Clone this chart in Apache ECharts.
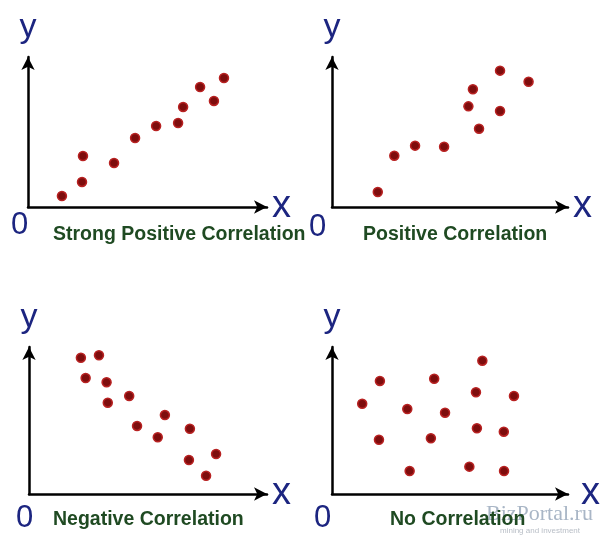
<!DOCTYPE html>
<html>
<head>
<meta charset="utf-8">
<script src="https://cdn.jsdelivr.net/npm/echarts@6/dist/echarts.min.js"></script>
<style>
  html, body { margin: 0; padding: 0; background: #fff; }
  #chart { width: 602px; height: 537px; }
</style>
</head>
<body>
<div id="chart"></div>
<script>
// points as [x, y] on a 0..100 scale for both axes
const strongPositive = [
  [14.2, 7.3], [22.6, 16.7], [23.0, 34.0], [36.0, 29.3], [44.8, 46.0], [53.6, 54.0],
  [62.8, 56.0], [64.9, 66.7], [72.0, 80.0], [77.8, 70.7], [82.0, 86.0]
];
const positive = [
  [19.4, 10.0], [26.4, 34.2], [35.2, 40.9], [47.5, 40.2], [62.3, 52.2],
  [57.8, 67.1], [71.2, 64.0], [59.7, 78.5], [71.2, 90.9], [83.3, 83.5]
];
const negative = [
  [21.8, 92.7], [29.4, 94.4], [23.8, 78.9], [32.6, 76.0], [33.1, 62.1], [42.1, 66.7],
  [57.1, 53.7], [45.4, 46.3], [54.1, 38.6], [67.6, 44.4], [67.2, 23.1], [78.6, 27.2], [74.4, 12.4]
];
const noCorrelation = [
  [63.7, 90.7], [20.3, 76.9], [43.3, 78.4], [61.0, 69.2], [77.1, 66.7], [12.8, 61.4],
  [31.9, 57.8], [47.9, 55.3], [61.4, 44.7], [72.8, 42.4], [19.9, 36.9], [41.9, 37.9],
  [32.9, 15.6], [58.2, 18.6], [72.9, 15.6]
];
const panelTitles = ['Strong Positive Correlation', 'Positive Correlation', 'Negative Correlation', 'No Correlation'];

const blue = '#1c2580';
const green = '#1f4a22';

const grids = [
  { left: 28, top: 57, width: 239, height: 150 },
  { left: 332, top: 57, width: 236, height: 150 },
  { left: 29, top: 347, width: 238, height: 147 },
  { left: 332, top: 347, width: 236, height: 147 }
];
// label "0" offsets per panel: [right padding, margin]
const zeroPos = [[17, 3], [29, 5], [9, 9], [19, 9]];
const xNameGap = [5, 5, 5, 13];
const titlePos = [[53, 225], [363, 225], [53, 510], [390, 510]];

const makeX = (i) => ({
  gridIndex: i,
  type: 'value',
  min: 0,
  max: 100,
  interval: 100,
  axisLine: {
    show: true,
    symbol: ['none', 'arrow'],
    symbolSize: [10, 13],
    lineStyle: { color: '#000', width: 2.5 }
  },
  axisTick: { show: false },
  splitLine: { show: false },
  axisLabel: {
    formatter: (v) => (v === 0 ? '0' : ''),
    fontSize: 31,
    fontFamily: 'Liberation Sans',
    color: blue,
    margin: zeroPos[i][1],
    padding: [0, zeroPos[i][0], 0, 0]
  },
  name: 'x',
  nameLocation: 'end',
  nameGap: xNameGap[i],
  nameTextStyle: { fontSize: 38, fontFamily: 'Liberation Sans', color: blue }
});

const makeY = (i) => ({
  gridIndex: i,
  type: 'value',
  min: 0,
  max: 100,
  interval: 100,
  axisLine: {
    show: true,
    symbol: ['none', 'arrow'],
    symbolSize: [10, 13],
    lineStyle: { color: '#000', width: 2.5 }
  },
  axisTick: { show: false },
  splitLine: { show: false },
  axisLabel: { show: false },
  name: 'y',
  nameLocation: 'end',
  nameGap: 12,
  nameTextStyle: { fontSize: 34, fontFamily: 'Liberation Sans', color: blue }
});

const seriesData = [strongPositive, positive, negative, noCorrelation];

const chart = echarts.init(document.getElementById('chart'));
chart.setOption({
  backgroundColor: '#fff',
  animation: false,
  title: panelTitles.map((t, i) => ({
    text: t,
    left: titlePos[i][0],
    top: titlePos[i][1],
    padding: 0,
    textStyle: { fontSize: 19.5, fontWeight: 'bold', fontFamily: 'Liberation Sans', color: green }
  })),
  grid: grids,
  xAxis: grids.map((g, i) => makeX(i)),
  yAxis: grids.map((g, i) => makeY(i)),
  graphic: [
    {
      type: 'text', left: 486, top: 503,
      style: { text: 'BizPortal.ru', fontSize: 22, fontFamily: 'Liberation Serif', fill: '#a9b6c6' }
    },
    {
      type: 'text', left: 500, top: 527,
      style: { text: 'mining and investment', fontSize: 8, fontFamily: 'Liberation Sans', fill: '#b8bec6' }
    }
  ],
  series: seriesData.map((d, i) => ({
    type: 'scatter',
    xAxisIndex: i,
    yAxisIndex: i,
    data: d,
    symbolSize: 9,
    itemStyle: { color: '#7e0d0d', borderColor: '#b82222', borderWidth: 1.5, opacity: 1 }
  }))
});
</script>
</body>
</html>
